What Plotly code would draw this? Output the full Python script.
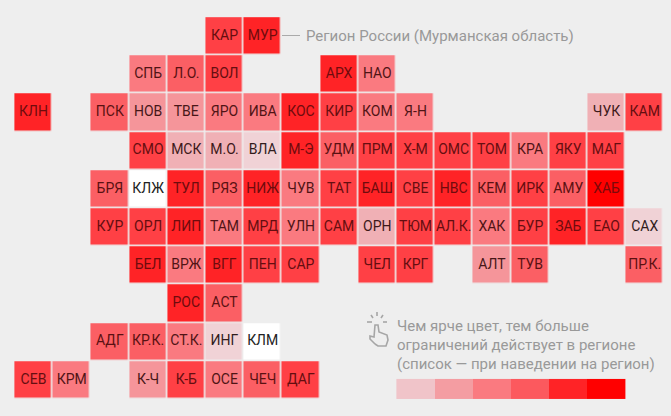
import plotly.graph_objects as go

W, H = 671, 416
BG = "#eeeeee"
PITCH = 38.2
X0, Y0 = 33.5, 36.3

grid = [
    ["", "", "", "", "", "КАР", "МУР"],
    ["", "", "", "СПБ", "Л.О.", "ВОЛ", "", "", "АРХ", "НАО"],
    ["КЛН", "", "ПСК", "НОВ", "ТВЕ", "ЯРО", "ИВА", "КОС", "КИР", "КОМ", "Я-Н", "", "", "", "", "ЧУК", "КАМ"],
    ["", "", "", "СМО", "МСК", "М.О.", "ВЛА", "М-Э", "УДМ", "ПРМ", "Х-М", "ОМС", "ТОМ", "КРА", "ЯКУ", "МАГ"],
    ["", "", "БРЯ", "КЛЖ", "ТУЛ", "РЯЗ", "НИЖ", "ЧУВ", "ТАТ", "БАШ", "СВЕ", "НВС", "КЕМ", "ИРК", "АМУ", "ХАБ"],
    ["", "", "КУР", "ОРЛ", "ЛИП", "ТАМ", "МРД", "УЛН", "САМ", "ОРН", "ТЮМ", "АЛ.К.", "ХАК", "БУР", "ЗАБ", "ЕАО", "САХ"],
    ["", "", "", "БЕЛ", "ВРЖ", "ВГГ", "ПЕН", "САР", "", "ЧЕЛ", "КРГ", "", "АЛТ", "ТУВ", "", "", "ПР.К."],
    ["", "", "", "", "РОС", "АСТ"],
    ["", "", "АДГ", "КР.К.", "СТ.К.", "ИНГ", "КЛМ"],
    ["СЕВ", "КРМ", "", "К-Ч", "К-Б", "ОСЕ", "ЧЕЧ", "ДАГ"],
]
# restriction level per region
levels = {
    0: ["КЛЖ", "КЛМ"],
    1: ["ВЛА", "ИНГ", "САХ"],
    2: ["МСК", "М.О.", "ЧУК", "ОРН"],
    3: ["НОВ", "ТВЕ", "К-Ч", "АЛТ"],
    4: ["СПБ", "ЯРО", "ИВА", "НАО", "КОМ", "Я-Н", "КРА", "ЧУВ", "ТАМ", "УЛН", "ВРЖ", "СТ.К.", "ОСЕ", "КРМ", "ХАК"],
    5: ["Л.О.", "ПСК", "БРЯ", "РЯЗ", "УДМ", "КЕМ", "АМУ", "КР.К.", "АДГ", "АСТ", "ЧЕЧ", "ТУВ", "ПР.К."],
    6: ["КАР", "ВОЛ", "КИР", "СМО", "ПРМ", "Х-М", "ОМС", "ТОМ", "ЯКУ", "МАГ", "КАМ", "ТАТ", "СВЕ", "ИРК", "КУР", "ОРЛ",
        "МРД", "САМ", "ТЮМ", "АЛ.К.", "БУР", "ЕАО", "ПЕН", "САР", "ЧЕЛ", "КРГ", "СЕВ", "К-Б", "ДАГ"],
    7: ["МУР", "КЛН", "КОС", "АРХ", "М-Э", "ТУЛ", "НИЖ", "БАШ", "НВС", "ЛИП", "ЗАБ", "БЕЛ", "ВГГ", "РОС"],
    8: ["ХАБ"],
}
level_colors = ["#ffffff", "#f0d2d6", "#f0b0b5", "#f5959a", "#fa7a80", "#fb5f64", "#ff4045", "#ff2326", "#ff0000"]
legend_values = [1.4, 2.7, 4, 5.2, 7, 8]
legend_note = ["Чем ярче цвет, тем больше", "ограничений действует в регионе", "(список — при наведении на регион)"]
region_note = "Регион России (Мурманская область)"

value_of = {name: lv for lv, names in levels.items() for name in names}
ncols = 17
z = [[value_of.get(row[c]) if c < len(row) and row[c] else None for c in range(ncols)] for row in grid]
colorscale = [[i / 8, c] for i, c in enumerate(level_colors)]


def hex_rgb(h):
    return tuple(int(h[i:i + 2], 16) for i in (1, 3, 5))


def text_color(level):
    r, g, b = hex_rgb(level_colors[level])
    k = g / 255
    return f"rgb({int(34 + (1 - k) * 90)},{int(8 + 26 * k)},{int(10 + 24 * k)})"


xs, ys, labels, colors = [], [], [], []
for r, row in enumerate(grid):
    for c, name in enumerate(row):
        if name:
            xs.append(c); ys.append(r); labels.append(name); colors.append(text_color(value_of[name]))

fig = go.Figure()
fig.add_trace(go.Heatmap(z=z, x=list(range(ncols)), y=list(range(len(grid))), zmin=0, zmax=8,
                         colorscale=colorscale, showscale=False, xgap=1.6, ygap=1.6, hoverongaps=False))
fig.add_trace(go.Heatmap(z=[legend_values], x=list(range(10, 16)), y=[8.97, 9.495], zmin=0, zmax=8,
                         colorscale=colorscale, showscale=False, hoverinfo="skip"))
fig.add_trace(go.Scatter(x=xs, y=ys, mode="text", text=labels, hoverinfo="skip", showlegend=False,
                         textfont=dict(family="Roboto", size=14, color=colors), textposition="middle center"))

fig.update_xaxes(range=[-X0 / PITCH, (W - X0) / PITCH], visible=False, fixedrange=True)
fig.update_yaxes(range=[(H - Y0) / PITCH, -Y0 / PITCH], visible=False, fixedrange=True)


def px(x, y):
    return x / W, 1 - y / H


def path(points):
    return "M " + " L ".join(f"{px(x, y)[0]:.5f},{px(x, y)[1]:.5f}" for x, y in points)


GREY = "#a6a6a6"
shapes = [dict(type="line", xref="paper", yref="paper", x0=px(282, 0)[0], x1=px(300, 0)[0], y0=px(0, 35.5)[1], y1=px(0, 35.5)[1],
               line=dict(color="#aaaaaa", width=1))]
for seg in [[(367, 322), (372, 322)], [(371, 315), (373, 318)], [(377, 312), (377, 316)], [(383, 315), (381, 318)], [(383, 322), (387, 322)]]:
    shapes.append(dict(type="path", xref="paper", yref="paper", path=path(seg), line=dict(color=GREY, width=1.6)))
hand = [(375, 344), (370, 339), (370, 336), (374, 337), (375, 325), (378, 325), (379, 332), (387, 335), (388, 340), (386, 346), (378, 346), (375, 344)]
shapes.append(dict(type="path", xref="paper", yref="paper", path=path(hand), line=dict(color=GREY, width=1.6)))

annotations = [dict(text=region_note, xref="paper", yref="paper", x=px(303.5, 0)[0], y=px(0, 36)[1], xanchor="left", yanchor="middle",
                    showarrow=False, font=dict(family="Roboto", size=15, color="#999999"))]
for line, ly in zip(legend_note, [326, 345, 364]):
    annotations.append(dict(text=line, xref="paper", yref="paper", x=px(394.5, 0)[0], y=px(0, ly)[1], xanchor="left", yanchor="middle",
                            showarrow=False, font=dict(family="Roboto", size=15, color="#999999")))

fig.update_layout(width=W, height=H, margin=dict(l=0, r=0, t=0, b=0), paper_bgcolor=BG, plot_bgcolor=BG,
                  showlegend=False, shapes=shapes, annotations=annotations)
fig.write_html("out.html", config={"displayModeBar": False},
               post_script="document.body.style.margin='0';document.body.style.overflow='hidden';document.body.style.background='#eeeeee';")
